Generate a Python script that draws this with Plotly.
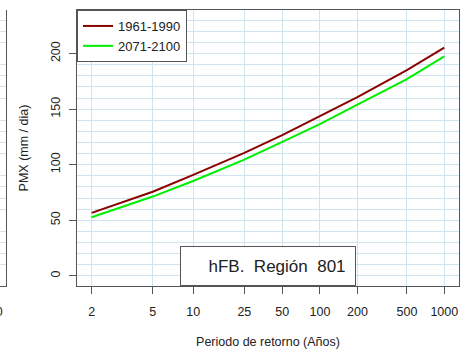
import numpy as np
import plotly.graph_objects as go

# ---- data ----
return_periods = [2, 5, 10, 25, 50, 100, 200, 500, 1000]
tick_labels = ["2", "5", "10", "25", "50", "100", "200", "500", "1000"]
pmx_1961_1990 = [56.6, 75.6, 90.8, 110.6, 126.5, 143.5, 160.8, 185.0, 205.3]
pmx_2071_2100 = [52.7, 71.3, 85.3, 104.5, 120.5, 136.5, 154.0, 177.0, 197.5]
series_names = ["1961-1990", "2071-2100"]
y_ticks = [0, 50, 100, 150, 200]


def gumbel(T):
    T = np.asarray(T, dtype=float)
    return -np.log(-np.log(1.0 - 1.0 / T))


xs = gumbel(return_periods)

W, H = 464, 350
ML, MR, MT, MB = 0, 5, 10, 64
PW = W - ML - MR
PH = H - MT - MB

FONT = "Liberation Sans, Arial, sans-serif"
GRID = "#cfe4ec"
AXC = "#555555"

fig = go.Figure()
fig.add_trace(go.Scatter(x=xs, y=pmx_1961_1990, mode="lines", name=series_names[0],
                         line=dict(color="#8b0000", width=2)))
fig.add_trace(go.Scatter(x=xs, y=pmx_2071_2100, mode="lines", name=series_names[1],
                         line=dict(color="#00ee00", width=2)))

yrange = [-9.2, 239.2]
fig.update_layout(
    width=W, height=H,
    margin=dict(l=ML, r=MR, t=MT, b=MB),
    paper_bgcolor="white", plot_bgcolor="white",
    font=dict(family=FONT, size=12.5, color="#222"),
    showlegend=True,
    legend=dict(x=77 / PW, y=1, xanchor="left", yanchor="top",
                bgcolor="white", bordercolor=AXC, borderwidth=1,
                font=dict(size=13, family=FONT, color="#222"),
                tracegroupgap=0, itemwidth=30),
    xaxis=dict(domain=[77 / PW, 1.0], range=[0.095, 7.18],
               tickmode="array", tickvals=xs, ticktext=tick_labels,
               showgrid=True, gridcolor=GRID, gridwidth=1, zeroline=False,
               showline=True, linecolor=AXC, linewidth=1, mirror=True,
               ticks="outside", ticklen=7, tickcolor=AXC, ticklabelstandoff=7,
               title=dict(text="Periodo de retorno (Años)", standoff=19,
                          font=dict(size=12.5))),
    yaxis=dict(range=yrange, tickmode="array", tickvals=y_ticks,
               tickangle=-90, showgrid=True, gridcolor=GRID, gridwidth=1,
               zeroline=False, showline=True, linecolor=AXC, linewidth=1,
               mirror=True, ticks="outside", ticklen=7, tickcolor=AXC,
               ticklabelstandoff=4,
               minor=dict(dtick=10, tick0=0, showgrid=True, gridcolor=GRID,
                          gridwidth=1, ticks=""),
               title=dict(text="PMX (mm / dia)", standoff=17,
                          font=dict(size=12.5))),
    # remnant of a neighbouring panel on the far left
    xaxis2=dict(domain=[0, 6 / PW], range=[0, 1], anchor="y2",
                showgrid=False, zeroline=False, showticklabels=False,
                showline=True, linecolor=AXC, linewidth=1, ticks=""),
    yaxis2=dict(range=yrange, anchor="x2", side="right", showticklabels=False,
                showgrid=False, zeroline=False, showline=True, linecolor=AXC,
                linewidth=1, ticks="",
                minor=dict(dtick=10, tick0=0, showgrid=True, gridcolor=GRID,
                           gridwidth=1, ticks="")),
)

fig.add_trace(go.Scatter(x=[None], y=[None], xaxis="x2", yaxis="y2",
                         showlegend=False, hoverinfo="skip"))

fig.add_annotation(
    text="hFB.\u00a0\u00a0Región\u00a0\u00a0801\u00a0\u00a0",
    xref="paper", yref="paper", x=267.9 / PW, y=0,
    xanchor="center", yanchor="bottom",
    showarrow=False, align="right", valign="middle",
    width=174, height=38, borderpad=0, borderwidth=1, bordercolor=AXC,
    bgcolor="white", font=dict(size=17, family=FONT, color="#222"))

fig.add_annotation(
    text="1000", xref="paper", yref="paper", x=5 / PW, y=(286 - 312) / PH,
    xanchor="right", yanchor="middle", showarrow=False,
    font=dict(size=12.5, family=FONT, color="#222"))

fig.write_html("out.html", config={"displayModeBar": False},
               post_script="document.body.style.margin='0';")
